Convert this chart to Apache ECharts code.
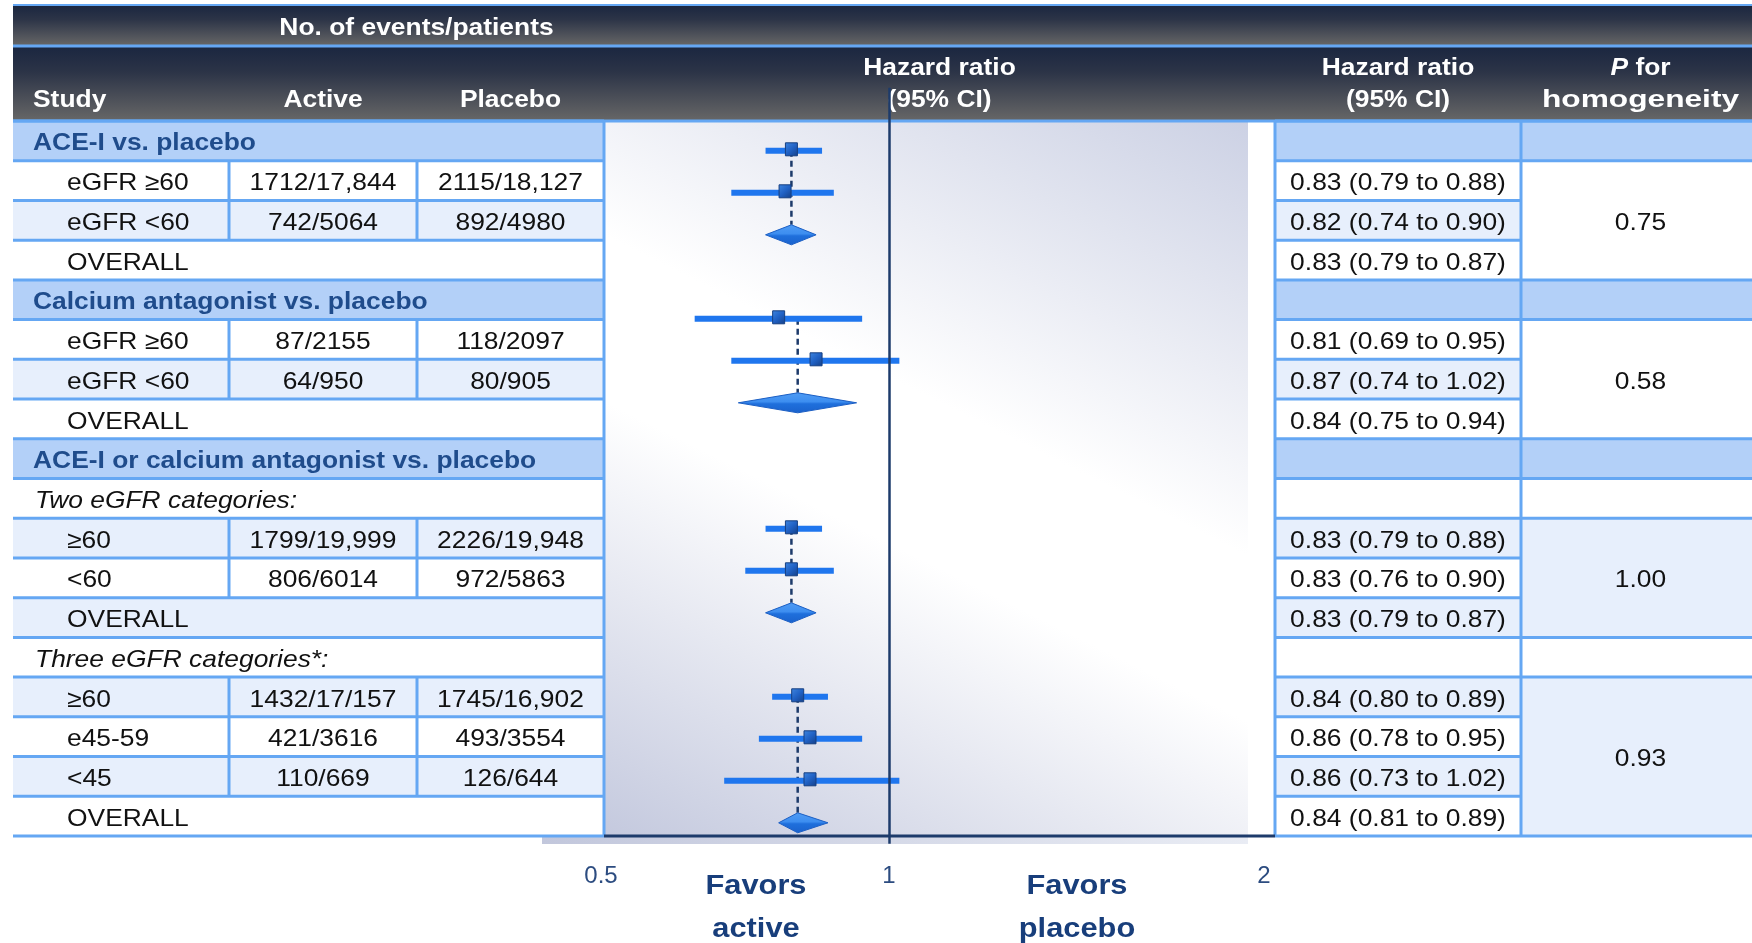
<!DOCTYPE html>
<html>
<head>
<meta charset="utf-8">
<style>
    html, body{ margin:0; padding:0; background:#fff; }
    #forestMain{ width:1752px; height:943px; }
</style>
<script src="https://cdn.jsdelivr.net/npm/echarts@6/dist/echarts.min.js"></script>
</head>
<body>
<div id="forestMain"></div>
<script>
    // ---- data ----
    var studyLabels = ['ACE-I vs. placebo','eGFR ≥60','eGFR <60','OVERALL',
        'Calcium antagonist vs. placebo','eGFR ≥60','eGFR <60','OVERALL',
        'ACE-I or calcium antagonist vs. placebo','Two eGFR categories:','≥60','<60','OVERALL',
        'Three eGFR categories*:','≥60','e45-59','<45','OVERALL'];
    var rowKinds = ['group','data','data','overall','group','data','data','overall',
        'group','sub','data','data','overall','sub','data','data','data','overall'];
    var activeEvents = ['','1712/17,844','742/5064','','','87/2155','64/950','',
        '','','1799/19,999','806/6014','','','1432/17/157','421/3616','110/669',''];
    var placeboEvents = ['','2115/18,127','892/4980','','','118/2097','80/905','',
        '','','2226/19,948','972/5863','','','1745/16,902','493/3554','126/644',''];
    var hazardRatio = [null,0.83,0.82,0.83,null,0.81,0.87,0.84,null,null,0.83,0.83,0.83,null,0.84,0.86,0.86,0.84];
    var ciLower     = [null,0.79,0.74,0.79,null,0.69,0.74,0.75,null,null,0.79,0.76,0.79,null,0.80,0.78,0.73,0.81];
    var ciUpper     = [null,0.88,0.90,0.87,null,0.95,1.02,0.94,null,null,0.88,0.90,0.87,null,0.89,0.95,1.02,0.89];
    var pGroups = [[1,3],[5,7],[10,12],[14,17]];   // first row .. overall row
    var pValues = ['0.75','0.58','1.00','0.93'];
    var tickValues = [0.5, 1, 2];

    // ---- layout ----
    var FONT = '"Liberation Sans", Arial, sans-serif';
    var W = 1752;
    var tableL = 13, colActive = 229, colPlacebo = 417, tableR = 604;
    var plotR = 1248, hrL = 1275, pL = 1521;
    var headTop = 5, headMid = 46, bodyTop = 121, bodyBottom = 836;
    var rowH = (bodyBottom - bodyTop) / studyLabels.length;
    var TY = 3; // text baseline nudge
    var LINE = '#65a7f3', GROUPBG = '#b3d0f8', LIGHT = '#e7effc', NAVY = '#1d3b6b';
    var shaded = [2,6,10,12,14,16];
    var pBlockFill = ['#ffffff','#ffffff',LIGHT,LIGHT];

    var els = [];
    function rect(x, y, w, h, fill, z){
        els.push({type:'rect', z:z||0, silent:true, shape:{x:x, y:y, width:w, height:h}, style:{fill:fill}});
    }
    function line(x1, y1, x2, y2, color, width){
        els.push({type:'line', z:1, silent:true, shape:{x1:x1, y1:y1, x2:x2, y2:y2}, style:{stroke:color, lineWidth:width}});
    }
    function txt(s, x, y, o){
        o = o || {};
        var al = o.align || 'left';
        els.push({type:'text', z:2, silent:true, x:x, y:y + TY, scaleX:o.sx || 1.1,
            style:{text:s, fill:o.color || '#111', fontSize:o.size || 24, fontFamily:FONT,
                fontWeight:o.bold ? 'bold' : 'normal', fontStyle:o.italic ? 'italic' : 'normal',
                align:al, textAlign:al, verticalAlign:'middle', textVerticalAlign:'middle',
                rich:o.rich}});
    }
    function rowY(r){ return bodyTop + r * rowH; }
    function inPGroup(r){
        for (var i = 0; i < pGroups.length; i++){ if (r >= pGroups[i][0] && r <= pGroups[i][1]) return i; }
        return -1;
    }

    // header bands
    var headGrad = {type:'linear', x:0, y:0, x2:0, y2:1, colorStops:[
        {offset:0, color:'#1a2640'}, {offset:0.35, color:'#2c3447'}, {offset:1, color:'#676767'}]};
    rect(tableL, headTop, W - tableL, headMid - headTop, headGrad);
    rect(tableL, headMid, W - tableL, bodyTop - headMid, headGrad);
    line(tableL, headTop, W, headTop, LINE, 2);
    line(tableL, headMid, W, headMid, LINE, 3);

    // shaded plot background
    rect(tableR, bodyTop, plotR - tableR, bodyBottom - bodyTop, {type:'linear', x:0.168, y:1.075, x2:0.81, y2:-0.085, colorStops:[
        {offset:0, color:'#c4c9de'}, {offset:0.42, color:'#ffffff'}, {offset:0.58, color:'#ffffff'}, {offset:1, color:'#ccd1e4'}]});
    rect(542, bodyBottom, plotR - 542, 8, {type:'linear', x:0, y:0, x2:1, y2:0, colorStops:[
        {offset:0, color:'#c2c7dc'}, {offset:1, color:'#e9ecf4'}]});

    // row fills
    studyLabels.forEach(function(lab, r){
        var k = rowKinds[r];
        var fill = k === 'group' ? GROUPBG : (shaded.indexOf(r) >= 0 ? LIGHT : '#ffffff');
        rect(tableL, rowY(r), tableR - tableL, rowH, fill);
        rect(hrL, rowY(r), pL - hrL, rowH, k === 'sub' ? '#ffffff' : fill);
        if (k === 'group' || k === 'sub') rect(pL, rowY(r), W - pL, rowH, k === 'group' ? GROUPBG : '#ffffff');
    });
    pGroups.forEach(function(g, i){
        rect(pL, rowY(g[0]), W - pL, rowY(g[1] + 1) - rowY(g[0]), pBlockFill[i]);
    });

    // grid lines
    for (var b = 0; b <= studyLabels.length; b++){
        var y = rowY(b);
        line(tableL, y, tableR, y, LINE, 3);
        line(hrL, y, pL, y, LINE, 3);
        var gi = inPGroup(b), gp = inPGroup(b - 1);
        if (!(gi >= 0 && gi === gp)) line(pL, y, W, y, LINE, 3);
    }
    line(tableR, bodyTop, tableR, bodyBottom, LINE, 3);
    line(hrL, bodyTop, hrL, bodyBottom, LINE, 3);
    line(pL, bodyTop, pL, bodyBottom, LINE, 3);
    rowKinds.forEach(function(k, r){
        if (k !== 'data') return;
        line(colActive, rowY(r), colActive, rowY(r + 1), LINE, 3);
        line(colPlacebo, rowY(r), colPlacebo, rowY(r + 1), LINE, 3);
    });
    line(tableL, bodyTop, W, bodyTop, LINE, 3);
    line(tableR, bodyBottom, hrL, bodyBottom, NAVY, 3);

    // header text
    var WH = '#ffffff';
    txt('No. of events/patients', (colActive + tableR) / 2, 25, {bold:true, color:WH, align:'center'});
    txt('Study', 33, 97, {bold:true, color:WH});
    txt('Active', (colActive + colPlacebo) / 2, 97, {bold:true, color:WH, align:'center'});
    txt('Placebo', (colPlacebo + tableR) / 2, 97, {bold:true, color:WH, align:'center'});
    txt('Hazard ratio', (tableR + hrL) / 2, 65, {bold:true, color:WH, align:'center'});
    txt('(95% CI)', (tableR + hrL) / 2, 97, {bold:true, color:WH, align:'center'});
    txt('Hazard ratio', (hrL + pL) / 2, 65, {bold:true, color:WH, align:'center'});
    txt('(95% CI)', (hrL + pL) / 2, 97, {bold:true, color:WH, align:'center'});
    txt('{i|P} for', (pL + W) / 2 + 4, 65, {bold:true, color:WH, align:'center',
        rich:{i:{fontStyle:'italic', fontWeight:'bold', fill:WH, color:WH, fontSize:24, fontFamily:FONT}}});
    txt('homogeneity', (pL + W) / 2 + 4, 97, {bold:true, color:WH, align:'center', sx:1.32});

    // body text
    studyLabels.forEach(function(lab, r){
        var k = rowKinds[r], cy = rowY(r) + rowH / 2;
        if (k === 'group') txt(lab, 33, cy, {bold:true, color:'#1f4c8c'});
        else if (k === 'sub') txt(lab, 35, cy, {italic:true});
        else txt(lab, 67, cy);
        if (activeEvents[r]) txt(activeEvents[r], (colActive + colPlacebo) / 2, cy, {align:'center'});
        if (placeboEvents[r]) txt(placeboEvents[r], (colPlacebo + tableR) / 2, cy, {align:'center'});
        if (hazardRatio[r] != null){
            txt(hazardRatio[r].toFixed(2) + ' (' + ciLower[r].toFixed(2) + ' to ' + ciUpper[r].toFixed(2) + ')',
                (hrL + pL) / 2, cy, {align:'center'});
        }
    });
    pGroups.forEach(function(g, i){
        txt(pValues[i], (pL + W) / 2 + 4, (rowY(g[0]) + rowY(g[1] + 1)) / 2, {align:'center'});
    });

    // axis captions
    var CAP = '#183e7b';
    txt('Favors', 756, 883, {bold:true, size:28, color:CAP, align:'center'});
    txt('active', 756, 926, {bold:true, size:28, color:CAP, align:'center'});
    txt('Favors', 1077, 883, {bold:true, size:28, color:CAP, align:'center'});
    txt('placebo', 1077, 926, {bold:true, size:28, color:CAP, align:'center'});

    // ---- forest marks ----
    var forestData = [];
    hazardRatio.forEach(function(v, r){
        if (v != null) forestData.push([r, v, ciLower[r], ciUpper[r], rowKinds[r] === 'overall' ? 1 : 0]);
    });
    var linkData = pGroups.map(function(g){ return [g[0], g[1], hazardRatio[g[1]]]; });

    var squareFill = {type:'linear', x:0, y:0, x2:1, y2:1, colorStops:[
        {offset:0, color:'#3f86e0'}, {offset:0.5, color:'#2061c4'}, {offset:1, color:'#143f86'}]};
    var diamondFill = {type:'linear', x:0, y:0, x2:0, y2:1, colorStops:[
        {offset:0, color:'#4f9cf4'}, {offset:0.45, color:'#3d8ef0'}, {offset:0.55, color:'#1f6fdc'}, {offset:1, color:'#1a62cc'}]};

    var option = {
        animation:false,
        graphic:{elements:els},
        grid:{left:526, right:W - 1252, top:87.8, bottom:943 - 843.8},
        xAxis:{
            type:'log', logBase:10, min:0.5, max:2,
            axisLine:{show:false}, axisTick:{show:false}, splitLine:{show:false},
            axisLabel:{
                customValues:tickValues, margin:21,
                formatter:function(v){
                    if (v < 0.7) return '{lo|' + v + '}';
                    if (v > 1.5) return '{hi|' + v + '}';
                    return '{mid|' + v + '}';
                },
                rich:{
                    lo:{padding:[0,0,0,150], color:'#2c4c80', fontSize:24, fontFamily:FONT},
                    mid:{color:'#2c4c80', fontSize:24, fontFamily:FONT},
                    hi:{padding:[0,0,0,24], color:'#2c4c80', fontSize:24, fontFamily:FONT}
                }
            }
        },
        yAxis:{type:'value', min:-0.5, max:17.5, inverse:true, show:false},
        series:[
            {
                name:'links', type:'custom', z:3, silent:true,
                encode:{x:2, y:[0,1]},
                data:linkData,
                renderItem:function(params, api){
                    var top = api.coord([api.value(2), api.value(0)]);
                    var bot = api.coord([api.value(2), api.value(1)]);
                    return {type:'line', shape:{x1:top[0], y1:top[1], x2:bot[0], y2:bot[1] - 10},
                        style:{stroke:NAVY, lineWidth:2.5, lineDash:[6,4]}};
                },
                markLine:{
                    silent:true, symbol:['none','none'], label:{show:false},
                    lineStyle:{color:NAVY, width:2.5, type:'solid'},
                    data:[{xAxis:1}]
                }
            },
            {
                name:'Hazard ratio', type:'custom', z:4,
                encode:{x:[1,2,3], y:0},
                data:forestData,
                renderItem:function(params, api){
                    var r = api.value(0);
                    var c = api.coord([api.value(1), r]);
                    var cl = api.coord([api.value(2), r]);
                    var ch = api.coord([api.value(3), r]);
                    if (api.value(4)){
                        return {type:'polygon', shape:{points:[[cl[0], c[1]], [c[0], c[1] - 10], [ch[0], c[1]], [c[0], c[1] + 10]]},
                            style:{fill:diamondFill, stroke:'#1c5fc4', lineWidth:1}};
                    }
                    return {type:'group', children:[
                        {type:'rect', shape:{x:cl[0], y:c[1] - 3, width:ch[0] - cl[0], height:6}, style:{fill:'#1f76ee'}},
                        {type:'rect', shape:{x:c[0] - 6, y:c[1] - 8, width:12, height:13}, style:{fill:squareFill, stroke:'#163f80', lineWidth:1}}
                    ]};
                }
            }
        ]
    };

    var chart = echarts.init(document.getElementById('forestMain'));
    chart.setOption(option);
</script>
</body>
</html>
